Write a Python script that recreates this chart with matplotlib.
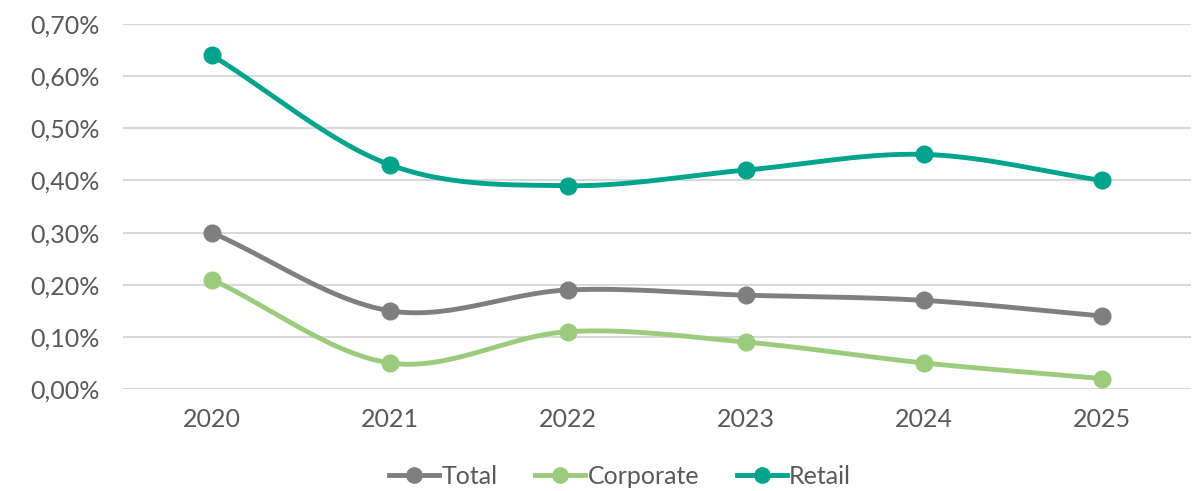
import numpy as np
import matplotlib
matplotlib.use('Agg')
import matplotlib.pyplot as plt
from matplotlib.ticker import FuncFormatter

plt.rcParams['font.family'] = ['Lato', 'DejaVu Sans']
plt.rcParams['font.weight'] = 'normal'

years = ['2020', '2021', '2022', '2023', '2024', '2025']
total = [0.30, 0.15, 0.19, 0.18, 0.17, 0.14]
corporate = [0.21, 0.05, 0.11, 0.09, 0.05, 0.02]
retail = [0.64, 0.43, 0.39, 0.42, 0.45, 0.40]

series = [
    ('Total', total, '#7f7f7f'),
    ('Corporate', corporate, '#9bcb7d'),
    ('Retail', retail, '#00a38b'),
]


def smooth(x, y, n=30):
    # Catmull-Rom style curve through the points (like Excel smoothed lines)
    x = np.asarray(x, float)
    y = np.asarray(y, float)
    px = np.concatenate([[2 * x[0] - x[1]], x, [2 * x[-1] - x[-2]]])
    py = np.concatenate([[2 * y[0] - y[1]], y, [2 * y[-1] - y[-2]]])
    xs, ys = [], []
    t = np.linspace(0, 1, n)
    for i in range(1, len(px) - 2):
        p0, p1, p2, p3 = py[i - 1], py[i], py[i + 1], py[i + 2]
        q0, q1, q2, q3 = px[i - 1], px[i], px[i + 1], px[i + 2]
        c1y = p1 + (p2 - p0) / 6
        c2y = p2 - (p3 - p1) / 6
        c1x = q1 + (q2 - q0) / 6
        c2x = q2 - (q3 - q1) / 6
        b = lambda a, c1, c2, d: ((1 - t) ** 3 * a + 3 * (1 - t) ** 2 * t * c1
                                  + 3 * (1 - t) * t ** 2 * c2 + t ** 3 * d)
        xs.append(b(q1, c1x, c2x, q2))
        ys.append(b(p1, c1y, c2y, p2))
    return np.concatenate(xs), np.concatenate(ys)


fig = plt.figure(figsize=(11.97, 4.91), dpi=100)
ax = fig.add_axes([0.1028, 0.2077, 0.8922, 0.7433])

x = np.arange(len(years))
for name, vals, color in series:
    sx, sy = smooth(x, vals)
    ax.plot(sx, sy, color=color, linewidth=3.5, solid_capstyle='round', zorder=3)
    ax.plot(x, vals, 'o', color=color, markersize=12, zorder=4)
    ax.plot([], [], color=color, linewidth=3.5, marker='o', markersize=11,
            label=name)

ax.set_xlim(-0.5, len(years) - 0.5)
ax.set_ylim(0, 0.7)
ax.set_yticks(np.arange(0, 0.71, 0.1))
ax.yaxis.set_major_formatter(FuncFormatter(lambda v, p: f'{v:.2f}%'.replace('.', ',')))
ax.set_xticks(x)
ax.set_xticklabels(years)
ax.grid(axis='y', color='#d9d9d9', linewidth=1.5)
ax.set_axisbelow(True)
for s in ax.spines.values():
    s.set_visible(False)
ax.tick_params(length=0, labelsize=18, labelcolor='#595959')
ax.tick_params(axis='x', pad=14)
ax.tick_params(axis='y', pad=17)

fig.legend(loc='center', bbox_to_anchor=(0.518, 0.03), ncol=3, frameon=False,
           fontsize=18, labelcolor='#595959', handlelength=2.0,
           handletextpad=0.1, columnspacing=1.5)

fig.savefig('out.png', dpi=100)
